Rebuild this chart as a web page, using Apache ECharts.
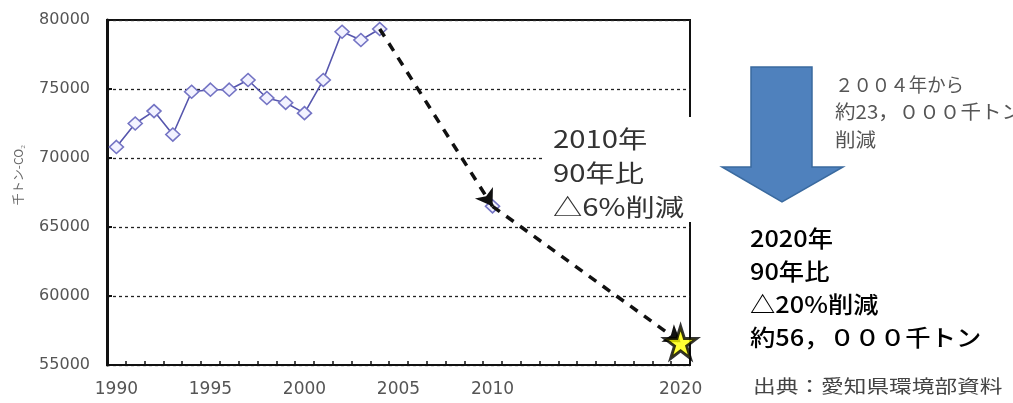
<!DOCTYPE html>
<html>
<head>
<meta charset="utf-8">
<script src="https://cdn.jsdelivr.net/npm/echarts@6/dist/echarts.min.js"></script>
<style>
  html, body { margin: 0; padding: 0; background: #fff; }
  #chart { width: 1013px; height: 403px; }
</style>
</head>
<body>
<div id="chart"></div>
<script>
// Categories: every year from 1990 to 2020
const years = ['1990','1991','1992','1993','1994','1995','1996','1997','1998','1999',
               '2000','2001','2002','2003','2004','2005','2006','2007','2008','2009',
               '2010','2011','2012','2013','2014','2015','2016','2017','2018','2019','2020'];
// Labelled years on the horizontal axis
const xTickLabels = ['1990','1995','2000','2005','2010','2020'];
// Emissions record (千トン-CO2), 1990-2004
const actualYears = ['1990','1991','1992','1993','1994','1995','1996','1997','1998','1999',
                     '2000','2001','2002','2003','2004'];
const actualValues = [70800, 72500, 73400, 71700, 74800, 74950, 74950, 75650, 74350, 74000,
                      73250, 75650, 79150, 78550, 79350];
// Reduction targets
const targetYears = ['2010', '2020'];
const targetValues = [66500, 56640];
// Y axis range
const yMin = 55000, yMax = 80000, yStep = 5000;

const lineData = years.map(function (y) {
  const i = actualYears.indexOf(y);
  if (i >= 0) return actualValues[i];
  if (y === targetYears[0]) return targetValues[0];
  return null;
});

const lastYear = actualYears[actualYears.length - 1];
const lastValue = actualValues[actualValues.length - 1];
const pathData = [
  { coords: [[years.indexOf(lastYear), lastValue], [years.indexOf(targetYears[0]), targetValues[0]]] },
  { coords: [[years.indexOf(targetYears[0]), targetValues[0]], [years.indexOf(targetYears[1]), targetValues[1]]] }
];

const starPath = 'path://M50,0 L61.2,34.5 L97.6,34.5 L68.2,55.9 L79.4,90.5 L50,69.1 L20.6,90.5 L31.8,55.9 L2.4,34.5 L38.8,34.5 Z';

const chart = echarts.init(document.getElementById('chart'), null, { renderer: 'canvas' });

chart.setOption({
  animation: false,
  backgroundColor: '#ffffff',
  grid: {
    left: 107, right: 323, top: 20, bottom: 38,
    show: true, borderColor: '#111', borderWidth: 2, backgroundColor: 'transparent'
  },
  xAxis: {
    type: 'category',
    data: years,
    boundaryGap: true,
    axisLine: { lineStyle: { color: '#111', width: 2 } },
    axisTick: { show: true, inside: true, length: 4, interval: 0, alignWithLabel: false,
                lineStyle: { color: '#111', width: 1.5 } },
    axisLabel: {
      interval: 0, margin: 16,
      color: '#555', fontFamily: 'DejaVu Sans', fontSize: 17,
      formatter: function (v) { return xTickLabels.indexOf(v) >= 0 ? v : ''; }
    },
    splitLine: { show: false }
  },
  yAxis: {
    type: 'value',
    min: yMin, max: yMax, interval: yStep,
    axisLine: { show: true, lineStyle: { color: '#111', width: 3 } },
    axisTick: { show: true, inside: true, length: 5, lineStyle: { color: '#111', width: 2 } },
    axisLabel: { margin: 17, color: '#555', fontFamily: 'DejaVu Sans', fontSize: 16,
                 formatter: function (v) { return String(v); } },
    splitLine: { show: true, lineStyle: { color: '#222', width: 1.3, type: [3, 3] } }
  },
  series: [
    {
      type: 'line',
      data: lineData,
      connectNulls: false,
      symbol: 'diamond',
      symbolSize: [14, 13],
      showSymbol: true,
      lineStyle: { color: '#5656ad', width: 1.6 },
      itemStyle: { color: '#f2f2ff', borderColor: '#7474c4', borderWidth: 1.6 },
      z: 3
    },
    {
      type: 'lines',
      coordinateSystem: 'cartesian2d',
      data: pathData,
      symbol: ['none', 'arrow'],
      symbolSize: 16,
      lineStyle: { color: '#111', width: 3.5, type: [9, 8], opacity: 1 },
      z: 4
    },
    {
      type: 'scatter',
      data: [[targetYears[1], targetValues[1]]],
      symbol: starPath,
      symbolSize: 32,
      itemStyle: { color: '#ffff00', borderColor: '#000', borderWidth: 3 },
      z: 5
    }
  ],
  graphic: [
    // unit name on the value axis
    {
      type: 'text', x: 18, y: 175, rotation: Math.PI / 2, z: 10,
      style: { text: '千トン-CO₂', font: '12px "Noto Sans CJK JP"', fill: '#666',
               align: 'center', verticalAlign: 'middle' }
    },
    // white panel behind the 2010 note
    {
      type: 'rect', z: 10,
      shape: { x: 543, y: 117, width: 154, height: 105 },
      style: { fill: '#ffffff' }
    },
    {
      type: 'text', x: 553, y: 173, z: 11, scaleX: 1.22,
      style: { text: '2010年\n90年比\n△6%削減', font: '24px "Noto Sans CJK JP"',
               lineHeight: 34, fill: '#333', align: 'left', verticalAlign: 'middle' }
    },
    // big downward arrow
    {
      type: 'polygon', z: 10,
      shape: { points: [[751, 67], [812, 67], [812, 167], [843, 167], [782, 202], [722, 167], [751, 167]] },
      style: { fill: '#4f81bd', stroke: '#3a6a9f', lineWidth: 1.5 }
    },
    {
      type: 'text', x: 835, y: 85, z: 11, scaleX: 0.97,
      style: { text: '２００４年から', font: '19px "Noto Sans CJK JP"',
               fill: '#555', align: 'left', verticalAlign: 'middle' }
    },
    {
      type: 'text', x: 835, y: 126, z: 11, scaleX: 1.08,
      style: { text: '約23，０００千トン\n削減', font: '19px "Noto Sans CJK JP"',
               lineHeight: 28, fill: '#555', align: 'left', verticalAlign: 'middle' }
    },
    {
      type: 'text', x: 750, y: 288, z: 11, scaleX: 1.1,
      style: { text: '2020年\n90年比\n△20%削減\n約56，０００千トン', font: '500 23px "Noto Sans CJK JP"',
               lineHeight: 33, fill: '#000', align: 'left', verticalAlign: 'middle' }
    },
    {
      type: 'text', x: 753, y: 386, z: 11, scaleX: 1.26,
      style: { text: '出典：愛知県環境部資料', font: '18px "Noto Sans CJK JP"',
               fill: '#444', align: 'left', verticalAlign: 'middle' }
    }
  ]
});
</script>
</body>
</html>
